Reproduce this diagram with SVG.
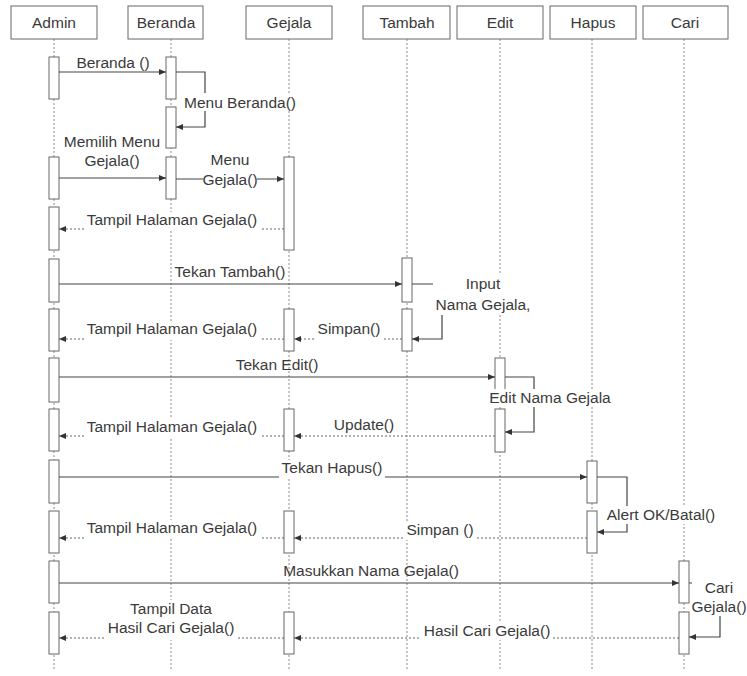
<svg xmlns="http://www.w3.org/2000/svg" width="747" height="676" viewBox="0 0 747 676">
<style>
text{font-family:"Liberation Sans",Arial,sans-serif;font-size:15.5px;fill:#3a3a3a;text-anchor:middle}
.hdr rect{fill:#fff;stroke:#666;stroke-width:1}
.life{stroke:#8a8a8a;stroke-width:1;stroke-dasharray:2 2;fill:none}
.act{fill:#fff;stroke:#555;stroke-width:1}
.msg{stroke:#444;stroke-width:1.2;fill:none;marker-end:url(#ah)}
.ret{stroke:#666;stroke-width:1.2;fill:none;stroke-dasharray:2 2;marker-end:url(#ah)}
.bg{fill:#fff}
</style>
<defs>
<marker id="ah" markerUnits="userSpaceOnUse" markerWidth="8" markerHeight="8" refX="7" refY="4" orient="auto">
<path d="M0,1 L7,4 L0,7 Z" fill="#333"/>
</marker>
</defs>
<rect width="747" height="676" fill="#fff"/>

<g id="lifelines">
<line class="life" x1="54" y1="39" x2="54" y2="670"/>
<line class="life" x1="171" y1="39" x2="171" y2="670"/>
<line class="life" x1="289" y1="39" x2="289" y2="670"/>
<line class="life" x1="407" y1="39" x2="407" y2="670"/>
<line class="life" x1="500" y1="39" x2="500" y2="670"/>
<line class="life" x1="592" y1="39" x2="592" y2="670"/>
<line class="life" x1="684" y1="39" x2="684" y2="670"/>
</g>

<g id="admin" class="hdr">
<rect x="11" y="6" width="86" height="33"/><text x="54" y="28">Admin</text>
<rect class="act" x="49" y="57" width="10" height="42"/>
<rect class="act" x="49" y="157" width="10" height="42"/>
<rect class="act" x="49" y="207" width="10" height="43"/>
<rect class="act" x="49" y="259" width="10" height="43"/>
<rect class="act" x="49" y="309" width="10" height="42"/>
<rect class="act" x="49" y="358" width="10" height="44"/>
<rect class="act" x="49" y="409" width="10" height="42"/>
<rect class="act" x="49" y="460" width="10" height="43"/>
<rect class="act" x="49" y="511" width="10" height="42"/>
<rect class="act" x="49" y="561" width="10" height="42"/>
<rect class="act" x="49" y="612" width="10" height="42"/>
</g>
<g id="beranda" class="hdr">
<rect x="128" y="6" width="75" height="33"/><text x="166" y="28">Beranda</text>
<rect class="act" x="166" y="57" width="10" height="42"/>
<rect class="act" x="166" y="107" width="10" height="41"/>
<rect class="act" x="166" y="157" width="10" height="42"/>
</g>
<g id="gejala" class="hdr">
<rect x="246" y="6" width="86" height="33"/><text x="289" y="28">Gejala</text>
<rect class="act" x="284" y="157" width="10" height="93"/>
<rect class="act" x="284" y="309" width="10" height="42"/>
<rect class="act" x="284" y="409" width="10" height="42"/>
<rect class="act" x="284" y="511" width="10" height="42"/>
<rect class="act" x="284" y="612" width="10" height="42"/>
</g>
<g id="tambah" class="hdr">
<rect x="363" y="6" width="87" height="33"/><text x="407" y="28">Tambah</text>
<rect class="act" x="402" y="258" width="10" height="44"/>
<rect class="act" x="402" y="309" width="10" height="42"/>
</g>
<g id="edit" class="hdr">
<rect x="457" y="6" width="86" height="33"/><text x="500" y="28">Edit</text>
<rect class="act" x="495" y="358" width="10" height="44"/>
<rect class="act" x="495" y="409" width="10" height="43"/>
</g>
<g id="hapus" class="hdr">
<rect x="550" y="6" width="86" height="33"/><text x="593" y="28">Hapus</text>
<rect class="act" x="587" y="461" width="10" height="42"/>
<rect class="act" x="587" y="511" width="10" height="42"/>
</g>
<g id="cari" class="hdr">
<rect x="643" y="6" width="85" height="33"/><text x="685" y="28">Cari</text>
<rect class="act" x="679" y="561" width="10" height="42"/>
<rect class="act" x="679" y="612" width="10" height="42"/>
</g>

<g id="connectors">
<path class="msg" d="M59,72 H166"/>
<path class="msg" d="M176,72 H205 V127 H176"/>
<path class="msg" d="M59,178 H166"/>
<path class="msg" d="M176,179 H284"/>
<path class="ret" d="M284,229 H59"/>
<path class="msg" d="M59,284 H402"/>
<path class="msg" d="M412,284 H442 V339 H412"/>
<path class="ret" d="M402,339 H294"/>
<path class="ret" d="M284,339 H59"/>
<path class="msg" d="M59,377 H495"/>
<path class="msg" d="M505,377 H534 V432 H505"/>
<path class="ret" d="M495,436 H294"/>
<path class="ret" d="M284,436 H59"/>
<path class="msg" d="M59,477 H587"/>
<path class="msg" d="M597,477 H627 V532 H597"/>
<path class="ret" d="M587,538 H294"/>
<path class="ret" d="M284,538 H59"/>
<path class="msg" d="M59,583 H679"/>
<path class="msg" d="M689,583 H720 V637 H689"/>
<path class="ret" d="M679,638 H294"/>
<path class="ret" d="M284,638 H59"/>
</g>

<g id="labels">
<text x="113" y="68">Beranda ()</text>
<rect class="bg" x="181" y="93" width="118" height="18"/><text x="240" y="108">Menu Beranda()</text>
<text x="112" y="147">Memilih Menu</text>
<text x="112" y="166">Gejala()</text>
<rect class="bg" x="203" y="153" width="54" height="36"/>
<text x="230" y="165">Menu</text><text x="230" y="185">Gejala()</text>
<rect class="bg" x="84" y="212" width="178" height="19"/><text x="172" y="225">Tampil Halaman Gejala()</text>
<text x="230" y="277">Tekan Tambah()</text>
<rect class="bg" x="433" y="275" width="100" height="40"/>
<text x="483" y="289">Input</text><text x="483" y="310">Nama Gejala,</text>
<rect class="bg" x="314" y="321" width="70" height="19"/><text x="349" y="334">Simpan()</text>
<rect class="bg" x="84" y="321" width="178" height="19"/><text x="172" y="334">Tampil Halaman Gejala()</text>
<text x="277" y="370">Tekan Edit()</text>
<rect class="bg" x="487" y="389" width="126" height="18"/><text x="550" y="403">Edit Nama Gejala</text>
<text x="364" y="430">Update()</text>
<rect class="bg" x="84" y="419" width="178" height="18"/><text x="172" y="432">Tampil Halaman Gejala()</text>
<rect class="bg" x="279" y="460" width="106" height="19"/><text x="332" y="473">Tekan Hapus()</text>
<rect class="bg" x="604" y="506" width="114" height="18"/><text x="661" y="520">Alert OK/Batal()</text>
<rect class="bg" x="403" y="522" width="74" height="18"/><text x="440" y="535">Simpan ()</text>
<rect class="bg" x="84" y="520" width="178" height="19"/><text x="172" y="533">Tampil Halaman Gejala()</text>
<text x="371" y="576">Masukkan Nama Gejala()</text>
<rect class="bg" x="692" y="580" width="55" height="36"/>
<text x="719" y="593">Cari</text><text x="719" y="612">Gejala()</text>
<rect class="bg" x="421" y="623" width="132" height="17"/><text x="487" y="636">Hasil Cari Gejala()</text>
<rect class="bg" x="104" y="600" width="134" height="40"/>
<text x="171" y="614">Tampil Data</text><text x="171" y="633">Hasil Cari Gejala()</text>
</g>
</svg>
